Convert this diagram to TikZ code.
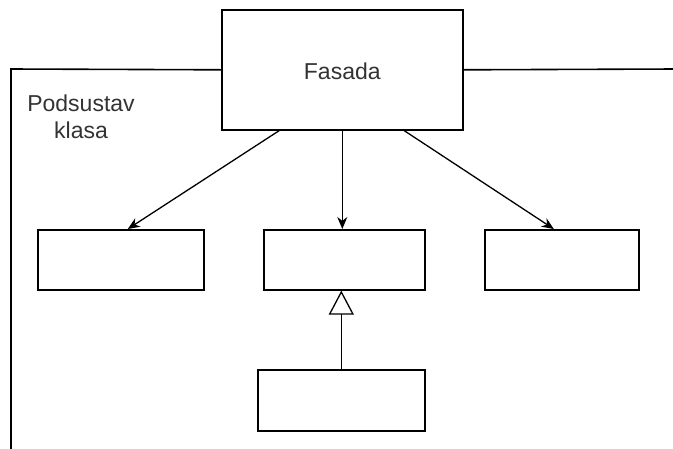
\documentclass[tikz,border=0pt]{standalone}
\usepackage{fontspec}
\setmainfont{Liberation Sans}
\usetikzlibrary{arrows.meta,calc}
\begin{document}
\begin{tikzpicture}[x=1pt,y=-1pt,
  box/.style={draw=black, line width=1.6pt, fill=white, inner sep=0pt, anchor=north west},
  conn/.style={draw=black, line width=1.3pt},
  dep/.style={conn, -{Stealth[length=12pt,width=10pt]}},
  inh/.style={conn, -{Triangle[open,length=24pt,width=25pt,fill=white]}},
  lbl/.style={font=\fontsize{23}{27}\selectfont, text=black!80}]
\useasboundingbox (0,0) rectangle (673,448);
\node[box, minimum width=241pt, minimum height=120pt] (fas) at (221,9) {};
\node[lbl] (fastext) at ($(fas.center)+(0,1)$) {Fasada};
\node[box, minimum width=166pt, minimum height=60pt] (b1) at (37,229) {};
\node[box, minimum width=161pt, minimum height=60pt] (b2) at (263,229) {};
\node[box, minimum width=154pt, minimum height=60pt] (b3) at (484,229) {};
\node[box, minimum width=167pt, minimum height=61pt] (b4) at (257,369) {};
\coordinate (fl) at (11,69);
\coordinate (fb) at (11,452);
\coordinate (fr) at (676,69);
\draw[conn, line width=1.6pt] (fas.west) -- (fl) -- (fb);
\draw[conn, line width=1.6pt] (fas.east) -- (fr);
\node[lbl, align=center] (sub) at (81,117) {Podsustav\\klasa};
\draw[dep] ($(fas.south west)!0.24!(fas.south east)$) -- ($(b1.north)+(7,0)$);
\draw[dep] (fas.south) -- (fas.south |- b2.north);
\draw[dep] ($(fas.south west)!0.755!(fas.south east)$) -- ($(b3.north)+(-8,0)$);
\draw[inh] (b4.north) -- (b4.north |- b2.south);
\end{tikzpicture}
\end{document}
